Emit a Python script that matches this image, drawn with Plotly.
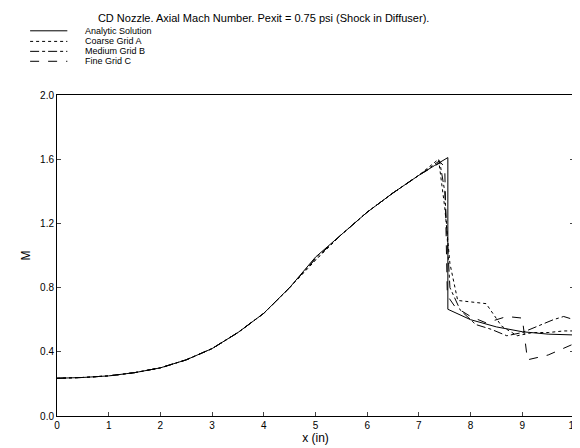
import plotly.graph_objects as go

# analytic solution
x_an = [0, 0.5, 1, 1.5, 2, 2.5, 3, 3.5, 4, 4.5, 5, 5.5, 6, 6.5, 7, 7.3, 7.56, 7.56, 8, 8.5, 9, 9.5, 10]
m_an = [0.235, 0.24, 0.25, 0.27, 0.30, 0.35, 0.42, 0.52, 0.64, 0.80, 0.99, 1.13, 1.27, 1.39, 1.50, 1.56, 1.61, 0.665, 0.60, 0.555, 0.525, 0.51, 0.505]

# coarse grid A
x_a = [0, 0.5, 1, 1.5, 2, 2.5, 3, 3.5, 4, 4.5, 5, 5.5, 6, 6.5, 7, 7.38, 7.5, 7.6, 7.75, 8.0, 8.3, 8.6, 8.9, 9.2, 9.5, 9.8, 10]
m_a = [0.235, 0.24, 0.25, 0.27, 0.30, 0.35, 0.42, 0.52, 0.64, 0.80, 0.97, 1.13, 1.27, 1.39, 1.50, 1.60, 1.30, 0.95, 0.72, 0.71, 0.70, 0.56, 0.50, 0.52, 0.52, 0.53, 0.53]

# medium grid B
x_b = [0, 0.5, 1, 1.5, 2, 2.5, 3, 3.5, 4, 4.5, 5, 5.5, 6, 6.5, 7, 7.4, 7.5, 7.6, 7.8, 8.1, 8.4, 8.7, 9.0, 9.3, 9.6, 9.8, 10]
m_b = [0.235, 0.24, 0.25, 0.27, 0.30, 0.35, 0.42, 0.52, 0.64, 0.80, 0.98, 1.13, 1.27, 1.39, 1.50, 1.59, 1.40, 0.80, 0.66, 0.57, 0.54, 0.50, 0.52, 0.56, 0.60, 0.62, 0.60]

# fine grid C
x_c = [0, 0.5, 1, 1.5, 2, 2.5, 3, 3.5, 4, 4.5, 5, 5.5, 6, 6.5, 7, 7.42, 7.5, 7.55, 7.7, 8.0, 8.3, 8.5, 8.7, 9.0, 9.1, 9.5, 9.8, 10]
m_c = [0.235, 0.24, 0.25, 0.27, 0.30, 0.35, 0.42, 0.52, 0.64, 0.80, 0.98, 1.13, 1.27, 1.39, 1.50, 1.58, 1.55, 0.75, 0.68, 0.62, 0.58, 0.60, 0.62, 0.61, 0.35, 0.38, 0.42, 0.45]

series = [
    ("Analytic Solution", x_an, m_an, "solid"),
    ("Coarse Grid A", x_a, m_a, "dot"),
    ("Medium Grid B", x_b, m_b, "dashdot"),
    ("Fine Grid C", x_c, m_c, "dash"),
]

fig = go.Figure()
# legend drawn by hand, compact like the original
legend_rows = [1.20, 1.167, 1.136, 1.105]
for (name, xs, ms, dash), ly in zip(series, legend_rows):
    fig.add_trace(go.Scatter(x=xs, y=ms, mode="lines", name=name, showlegend=False,
                             line=dict(color="black", width=1, dash=dash)))
    fig.add_shape(type="line", xref="paper", yref="paper", x0=-0.052, x1=0.02, y0=ly, y1=ly,
                  line=dict(color="black", width=1, dash=dash))
    fig.add_annotation(text=name, xref="paper", yref="paper", x=0.05, y=ly, xanchor="left",
                       yanchor="middle", showarrow=False, font=dict(size=9))

fig.update_layout(
    width=580, height=448,
    margin=dict(l=49, r=14, t=87, b=40),
    paper_bgcolor="white", plot_bgcolor="white",
    font=dict(family="Liberation Sans, Arial", size=10, color="black"),
    title=dict(text="CD Nozzle. Axial Mach Number. Pexit = 0.75 psi (Shock in Diffuser).",
               x=0.155, xanchor="left", y=0.985, yanchor="top", font=dict(size=11)),
    xaxis=dict(range=[0, 10], dtick=1, showgrid=False, zeroline=False, showline=True,
               linecolor="black", mirror=True, ticks="inside", ticklen=4, automargin=False,
               title=dict(text="x (in)", standoff=2)),
    yaxis=dict(range=[0, 2], dtick=0.4, tickformat=".1f", showgrid=False, zeroline=False,
               showline=True, linecolor="black", mirror="ticks", ticks="inside", ticklen=4,
               automargin=False, title=dict(text="M", standoff=6)),
)

fig.write_html("out.html")
